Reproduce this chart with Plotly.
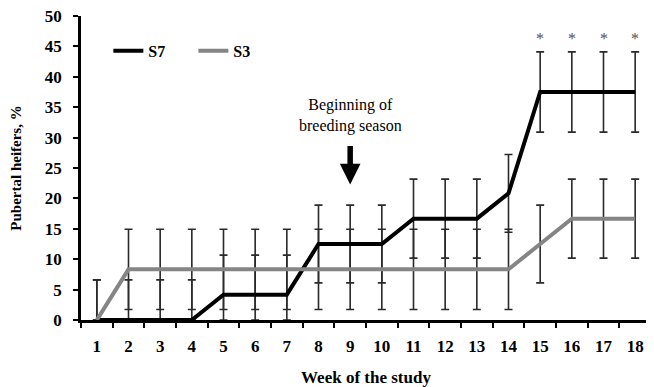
import plotly.graph_objects as go

weeks = [str(w) for w in range(1, 19)]
s7 = [0, 0, 0, 0, 4.17, 4.17, 4.17, 12.5, 12.5, 12.5, 16.67, 16.67, 16.67, 20.83, 37.5, 37.5, 37.5, 37.5]
s7_err = [6.6, 6.6, 6.6, 6.6, 6.5, 6.5, 6.5, 6.4, 6.4, 6.4, 6.5, 6.5, 6.5, 6.4, 6.6, 6.6, 6.6, 6.6]
s3 = [0] + [8.33] * 13 + [12.5, 16.67, 16.67, 16.67]
s3_err = [6.6] + [6.6] * 13 + [6.4, 6.5, 6.5, 6.5]
sig_weeks = ["15", "16", "17", "18"]
season_week = "9"
y_ticks = [0, 5, 10, 15, 20, 25, 30, 35, 40, 45, 50]

FONT = "Liberation Serif"
ERRC = "#2a2a2a"

fig = go.Figure()

def err_trace(vals, errs):
    minus = [min(e, v) for v, e in zip(vals, errs)]
    return go.Scatter(
        x=weeks, y=vals, mode="markers", marker=dict(size=1, opacity=0),
        error_y=dict(type="data", array=errs, arrayminus=minus, symmetric=False,
                     color=ERRC, thickness=1.6, width=4),
        showlegend=False, hoverinfo="skip")

fig.add_trace(err_trace(s3, s3_err))
fig.add_trace(err_trace(s7, s7_err))
fig.add_trace(go.Scatter(x=weeks, y=s7, mode="lines", name="<b>S7</b>",
                         line=dict(color="black", width=4)))
fig.add_trace(go.Scatter(x=weeks, y=s3, mode="lines", name="<b>S3</b>",
                         line=dict(color="#858585", width=4)))

for w in sig_weeks:
    fig.add_annotation(x=weeks.index(w), y=46.3, text="*", showarrow=False,
                       font=dict(family=FONT, size=16, color="#505050"))

xi = weeks.index(season_week)
fig.add_annotation(x=xi, y=33.6, text="Beginning of<br>breeding season", showarrow=False,
                   font=dict(family=FONT, size=16, color="black"))
fig.add_annotation(x=xi, y=22.3, ax=0, ay=-40, text="", showarrow=True,
                   arrowhead=2, arrowsize=0.75, arrowwidth=5.5, arrowcolor="black")

fig.update_layout(
    width=646, height=379,
    margin=dict(l=73, r=3, t=8, b=67),
    paper_bgcolor="white", plot_bgcolor="white",
    font=dict(family=FONT, size=16, color="black"),
    showlegend=True,
    legend=dict(orientation="h", x=0.048, y=0.885, xanchor="left", yanchor="middle",
                font=dict(family=FONT, size=16), bgcolor="rgba(0,0,0,0)",
                entrywidth=40, tracegroupgap=0),
)
fig.update_xaxes(
    type="category", range=[-0.5, 17.5], autorange=False, automargin=False,
    showline=True, linecolor="black", linewidth=2.5,
    ticks="outside", tickson="boundaries", ticklen=5, tickwidth=2, tickcolor="black",
    showgrid=False, zeroline=False, tickfont=dict(family=FONT, size=17, weight="bold"),
    title=dict(text="<b>Week of the study</b>", font=dict(family=FONT, size=17), standoff=16),
    ticklabelstandoff=9, ticklabeloverflow="allow",
)
fig.update_yaxes(
    range=[0, 50], autorange=False, automargin=False, tickvals=y_ticks,
    showline=True, linecolor="black", linewidth=2.5,
    ticks="outside", ticklen=5, tickwidth=2, tickcolor="black",
    showgrid=False, zeroline=False, tickfont=dict(family=FONT, size=17, weight="bold"),
    title=dict(text="<b>Pubertal heifers, %</b>", font=dict(family=FONT, size=15), standoff=20),
    ticklabelstandoff=8, ticklabeloverflow="allow",
)

fig.write_html("out.html")
